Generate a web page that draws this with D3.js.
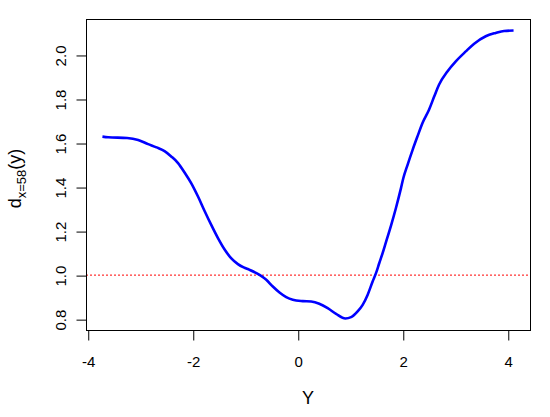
<!DOCTYPE html>
<html>
<head>
<meta charset="utf-8">
<script src="https://cdn.jsdelivr.net/npm/d3@7"></script>
<style>
  html, body { margin: 0; padding: 0; background: #fff; }
  svg { display: block; font-family: "Liberation Sans", Arial, sans-serif; }
</style>
</head>
<body>
<svg id="chart" width="550" height="417"></svg>
<script>
// Data
const yGrid = [-3.72, -3.61, -3.25, -3.04, -2.85, -2.69, -2.53, -2.41, -2.28, -2.15,
  -2.03, -1.90, -1.77, -1.65, -1.52, -1.39, -1.27, -1.14, -1.03, -0.918,
  -0.728, -0.60, -0.475, -0.348, -0.22, -0.095, 0.095, 0.255, 0.41, 0.57,
  0.73, 0.907, 1.015, 1.14, 1.236, 1.33, 1.426, 1.49, 1.553, 1.616,
  1.68, 1.776, 1.87, 1.966, 2.01, 2.09, 2.186, 2.28, 2.376, 2.50,
  2.60, 2.69, 2.85, 3.01, 3.20, 3.36, 3.58, 3.77, 3.93, 4.11];
const dValues = [1.629, 1.626, 1.623, 1.614, 1.595, 1.580, 1.562, 1.539, 1.509, 1.464,
  1.418, 1.357, 1.289, 1.229, 1.168, 1.115, 1.077, 1.050, 1.035, 1.024,
  1.001, 0.979, 0.948, 0.921, 0.900, 0.888, 0.882, 0.880, 0.870, 0.850,
  0.824, 0.803, 0.809, 0.835, 0.865, 0.910, 0.971, 1.009, 1.055, 1.100,
  1.150, 1.225, 1.305, 1.395, 1.440, 1.500, 1.568, 1.630, 1.691, 1.751,
  1.812, 1.865, 1.925, 1.971, 2.016, 2.051, 2.085, 2.100, 2.109, 2.111];
const xTicks = [-4, -2, 0, 2, 4];
const yTicks = [0.8, 1.0, 1.2, 1.4, 1.6, 1.8, 2.0];
const refLine = 1.0;

const svg = d3.select("#chart");
const plot = { left: 86, right: 530, top: 19, bottom: 330 };

// R-style 4% padded limits
function pad(ext) { const r = ext[1] - ext[0]; return [ext[0] - 0.04 * r, ext[1] + 0.04 * r]; }
const x = d3.scaleLinear().domain(pad(d3.extent(yGrid))).range([plot.left, plot.right]);
const y = d3.scaleLinear().domain(pad(d3.extent(dValues))).range([plot.bottom, plot.top]);

// reference dotted line
svg.append("line")
  .attr("x1", plot.left).attr("x2", plot.right)
  .attr("y1", y(refLine)).attr("y2", y(refLine))
  .attr("stroke", "#ff0000").attr("stroke-width", 1)
  .attr("stroke-dasharray", "2,2");

// curve
const pts = yGrid.map((v, i) => [v, dValues[i]]);
svg.append("path")
  .datum(pts)
  .attr("fill", "none")
  .attr("stroke", "#0000ff")
  .attr("stroke-width", 2.6)
  .attr("stroke-linejoin", "round")
  .attr("d", d3.line().x(d => x(d[0])).y(d => y(d[1])).curve(d3.curveMonotoneX));

// box
svg.append("rect")
  .attr("x", plot.left + 0.5).attr("y", plot.top + 0.5)
  .attr("width", plot.right - plot.left).attr("height", plot.bottom - plot.top)
  .attr("fill", "none").attr("stroke", "#000").attr("stroke-width", 1);

// x axis
const gx = svg.append("g")
  .attr("transform", `translate(0.5,${plot.bottom + 0.5})`)
  .call(d3.axisBottom(x).tickValues(xTicks).tickSize(10).tickSizeOuter(0).tickFormat(d => String(d)));
gx.select(".domain").remove();
gx.append("line").attr("x1", x(xTicks[0])).attr("x2", x(xTicks[xTicks.length - 1]))
  .attr("stroke", "#000");
gx.selectAll("text").attr("y", 36).attr("dy", 0)
  .attr("font-size", 15).attr("font-family", "Liberation Sans, Arial, sans-serif").attr("fill", "#000");
gx.selectAll(".tick line").attr("stroke", "#000");

// y axis
const gy = svg.append("g")
  .attr("transform", `translate(${plot.left + 0.5},0.5)`)
  .call(d3.axisLeft(y).tickValues(yTicks).tickSize(10).tickSizeOuter(0).tickFormat(d => d.toFixed(1)));
gy.select(".domain").remove();
gy.append("line").attr("y1", y(yTicks[0])).attr("y2", y(yTicks[yTicks.length - 1]))
  .attr("stroke", "#000");
gy.selectAll(".tick line").attr("stroke", "#000");
gy.selectAll("text")
  .attr("x", null).attr("dy", null)
  .attr("transform", "translate(-21,0) rotate(-90)")
  .attr("text-anchor", "middle")
  .attr("font-size", 15).attr("font-family", "Liberation Sans, Arial, sans-serif").attr("fill", "#000");

// x label
svg.append("text")
  .attr("x", (plot.left + plot.right) / 2).attr("y", 404)
  .attr("text-anchor", "middle").attr("font-size", 18).attr("fill", "#000")
  .text("Y");

// y label d_{x=58}(y)
const yl = svg.append("text")
  .attr("transform", `translate(21,178.5) rotate(-90)`)
  .attr("text-anchor", "middle").attr("font-size", 18).attr("fill", "#000");
yl.append("tspan").text("d");
yl.append("tspan").attr("dy", 5).attr("font-size", 13).text("x=58");
yl.append("tspan").attr("dy", -5).text("(y)");
</script>
</body>
</html>
